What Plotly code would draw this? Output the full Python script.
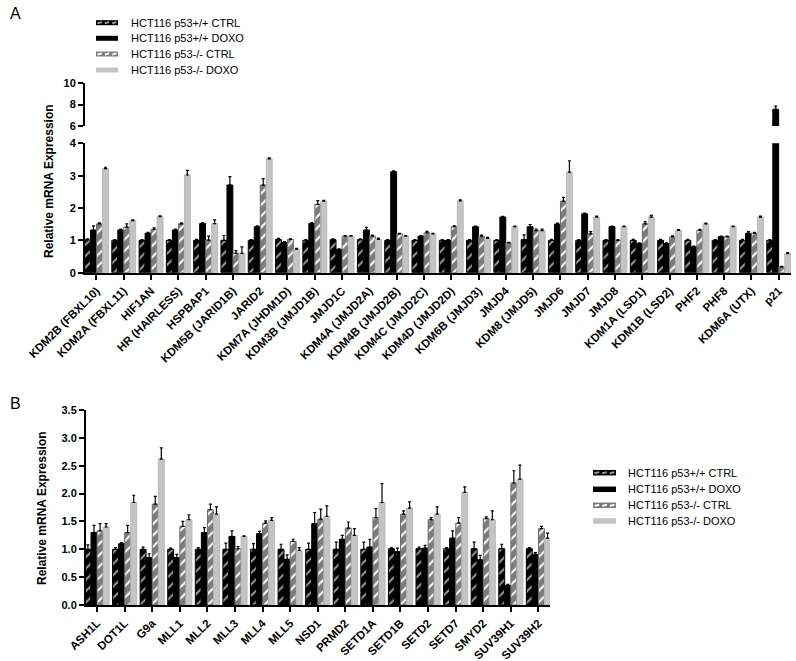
import plotly.graph_objects as go

FONT = "Liberation Sans, Arial, sans-serif"
W, H = 796, 661

series_names = ["HCT116 p53+/+ CTRL", "HCT116 p53+/+ DOXO", "HCT116 p53-/- CTRL", "HCT116 p53-/- DOXO"]

# ---------------- Panel A data ----------------
cats_a = ["KDM2B (FBXL10)", "KDM2A (FBXL11)", "HIF1AN", "HR (HAIRLESS)", "HSPBAP1",
          "KDM5B (JARID1B)", "JARID2", "KDM7A (JHDM1D)", "KDM3B (JMJD1B)", "JMJD1C",
          "KDM4A (JMJD2A)", "KDM4B (JMJD2B)", "KDM4C (JMJD2C)", "KDM4D (JMJD2D)",
          "KDM6B (JMJD3)", "JMJD4", "KDM8 (JMJD5)", "JMJD6", "JMJD7", "JMJD8",
          "KDM1A (LSD1)", "KDM1B (LSD2)", "PHF2", "PHF8", "KDM6A (UTX)", "p21"]
a_wt_ctrl = [1.02, 1.0, 1.0, 1.0, 1.0, 1.0, 1.0, 1.03, 1.0, 1.02, 1.02, 1.0, 1.0, 1.0,
             1.0, 1.0, 1.02, 1.0, 1.0, 1.0, 1.0, 1.0, 1.0, 1.0, 1.0, 1.0]
a_wt_doxo = [1.32, 1.32, 1.22, 1.32, 1.52, 2.71, 1.42, 0.93, 1.52, 0.72, 1.32, 3.12, 1.13, 1.0,
             1.42, 1.72, 1.42, 1.5, 1.82, 1.42, 0.9, 0.9, 0.8, 1.11, 1.22, 7.55]
a_ko_ctrl = [1.51, 1.41, 1.34, 1.51, 1.01, 0.6, 2.71, 1.03, 2.11, 1.13, 1.13, 1.2, 1.23, 1.42,
             1.13, 0.92, 1.3, 2.21, 1.2, 1.0, 1.51, 1.11, 1.31, 1.11, 1.22, 0.18]
a_ko_doxo = [3.22, 1.61, 1.73, 3.02, 1.52, 0.6, 3.52, 0.73, 2.21, 1.13, 1.03, 1.13, 1.2, 2.22,
             1.06, 1.42, 1.3, 3.11, 1.72, 1.42, 1.72, 1.31, 1.51, 1.42, 1.72, 0.59]
a_wt_ctrl_err = [0.03, 0.02, 0.02, 0.02, 0.03, 0.15, 0.02, 0.03, 0.02, 0.03, 0.03, 0.02, 0.02,
                 0.02, 0.02, 0.02, 0.15, 0.03, 0.02, 0.02, 0.03, 0.03, 0.03, 0.02, 0.03, 0.02]
a_wt_doxo_err = [0.13, 0.03, 0.03, 0.03, 0.03, 0.26, 0.03, 0.03, 0.03, 0.02, 0.08, 0.03, 0.02,
                 0.02, 0.02, 0.02, 0.07, 0.03, 0.02, 0.02, 0.02, 0.02, 0.02, 0.02, 0.05, 0.3]
a_ko_ctrl_err = [0.03, 0.1, 0.05, 0.03, 0.12, 0.08, 0.2, 0.02, 0.12, 0.02, 0.03, 0.02, 0.05,
                 0.03, 0.03, 0.02, 0.05, 0.12, 0.07, 0.02, 0.07, 0.03, 0.03, 0.02, 0.03, 0.02]
a_ko_doxo_err = [0.04, 0.02, 0.03, 0.14, 0.11, 0.2, 0.03, 0.02, 0.03, 0.02, 0.04, 0.02, 0.02,
                 0.03, 0.03, 0.02, 0.05, 0.35, 0.03, 0.02, 0.05, 0.02, 0.02, 0.02, 0.03, 0.03]

# ---------------- Panel B data ----------------
cats_b = ["ASH1L", "DOT1L", "G9a", "MLL1", "MLL2", "MLL3", "MLL4", "MLL5", "NSD1", "PRMD2",
          "SETD1A", "SETD1B", "SETD2", "SETD7", "SMYD2", "SUV39H1", "SUV39H2"]
b_wt_ctrl = [1.0, 1.0, 1.0, 1.0, 1.0, 1.0, 1.0, 1.0, 1.0, 1.0, 1.0, 1.01, 1.01, 1.01, 1.01, 1.01, 1.01]
b_wt_ctrl_err = [0.08, 0.03, 0.04, 0.02, 0.03, 0.11, 0.1, 0.09, 0.11, 0.13, 0.13, 0.02, 0.03, 0.02, 0.12, 0.08, 0.02]
b_wt_doxo = [1.3, 1.1, 0.85, 0.85, 1.3, 1.23, 1.28, 0.82, 1.46, 1.18, 1.04, 0.96, 1.02, 1.2, 0.81, 0.35, 0.91]
b_wt_doxo_err = [0.13, 0.02, 0.07, 0.06, 0.09, 0.1, 0.04, 0.08, 0.2, 0.07, 0.14, 0.06, 0.05, 0.13, 0.08, 0.02, 0.03]
b_ko_ctrl = [1.33, 1.3, 1.81, 1.41, 1.71, 1.01, 1.47, 1.14, 1.54, 1.38, 1.57, 1.63, 1.53, 1.47, 1.55, 2.19, 1.37]
b_ko_ctrl_err = [0.13, 0.13, 0.14, 0.09, 0.1, 0.04, 0.04, 0.04, 0.18, 0.11, 0.16, 0.06, 0.04, 0.1, 0.03, 0.22, 0.04]
b_ko_doxo = [1.4, 1.84, 2.62, 1.53, 1.63, 1.23, 1.52, 0.98, 1.59, 1.25, 1.84, 1.74, 1.63, 2.02, 1.53, 2.26, 1.2]
b_ko_doxo_err = [0.06, 0.13, 0.2, 0.09, 0.13, 0.01, 0.05, 0.05, 0.19, 0.12, 0.34, 0.11, 0.13, 0.1, 0.16, 0.25, 0.09]

# ---------------- styles ----------------
fill_colors = ["black", "black", "#7c7c7c", "#c4c4c4"]
dash_colors = ["#9a9a9a", None, "white", None]
styles = [
    dict(color="black", line=dict(color="black", width=1),
         pattern=dict(shape="/", bgcolor="black", fgcolor="#9a9a9a", size=8, solidity=0.25)),
    dict(color="black", line=dict(color="black", width=1)),
    dict(color="#7c7c7c", line=dict(color="#6a6a6a", width=1),
         pattern=dict(shape="/", bgcolor="#7c7c7c", fgcolor="white", size=8, solidity=0.25)),
    dict(color="#c4c4c4", line=dict(color="#b8b8b8", width=1)),
]


def err(arr):
    return dict(type="data", array=arr, arrayminus=[0] * len(arr), symmetric=False,
                color="black", thickness=1.2, width=1.5)


fig = go.Figure()

a_vals = [a_wt_ctrl, a_wt_doxo, a_ko_ctrl, a_ko_doxo]
a_errs = [a_wt_ctrl_err, a_wt_doxo_err, a_ko_ctrl_err, a_ko_doxo_err]
for i in range(4):
    fig.add_trace(go.Bar(x=cats_a, y=a_vals[i], name=series_names[i], marker=styles[i],
                         error_y=err(a_errs[i]), xaxis="x", yaxis="y", showlegend=False))
for i in range(4):
    fig.add_trace(go.Bar(x=cats_a, y=a_vals[i], name=series_names[i], marker=styles[i],
                         error_y=err(a_errs[i]), xaxis="x2", yaxis="y2", showlegend=False))

b_vals = [b_wt_ctrl, b_wt_doxo, b_ko_ctrl, b_ko_doxo]
b_errs = [b_wt_ctrl_err, b_wt_doxo_err, b_ko_ctrl_err, b_ko_doxo_err]
for i in range(4):
    fig.add_trace(go.Bar(x=cats_b, y=b_vals[i], name=series_names[i], marker=styles[i],
                         error_y=err(b_errs[i]), xaxis="x3", yaxis="y3", showlegend=False))


def px_x(p):
    return p / W


def px_y(p):
    return 1 - p / H


# ---------------- manual legends (swatch + label) ----------------
shapes = []
annotations = []


def add_legend(x0, x1, row_centers, text_x, sw_h):
    for i, yc in enumerate(row_centers):
        shapes.append(dict(type="rect", xref="paper", yref="paper",
                           x0=px_x(x0), x1=px_x(x1), y0=px_y(yc + sw_h / 2), y1=px_y(yc - sw_h / 2),
                           fillcolor=fill_colors[i], line=dict(width=0)))
        if dash_colors[i]:
            seg = (x1 - x0) / 3.0
            for k in range(3):
                sx = x0 + seg * k + 1.5
                shapes.append(dict(type="line", xref="paper", yref="paper",
                                   x0=px_x(sx), x1=px_x(sx + seg - 3),
                                   y0=px_y(yc + 0.6), y1=px_y(yc - 0.6),
                                   line=dict(color=dash_colors[i], width=2)))
        annotations.append(dict(text=series_names[i], x=px_x(text_x), y=px_y(yc), xref="paper",
                                yref="paper", showarrow=False, xanchor="left", yanchor="middle",
                                font=dict(family=FONT, size=11, color="black")))


add_legend(96, 118, [22.7, 38.3, 54.0, 70.0], 129, 5)
add_legend(593, 616, [472.7, 489.3, 505.3, 521.0], 626, 5.5)

annotations += [
    dict(text="A", x=px_x(8), y=px_y(14), xref="paper", yref="paper", showarrow=False,
         xanchor="left", yanchor="middle", font=dict(family=FONT, size=16, color="black")),
    dict(text="B", x=px_x(8), y=px_y(403), xref="paper", yref="paper", showarrow=False,
         xanchor="left", yanchor="middle", font=dict(family=FONT, size=16, color="black")),
    dict(text="Relative mRNA Expression", x=px_x(49), y=px_y(181), xref="paper", yref="paper",
         showarrow=False, textangle=-90, xanchor="center", yanchor="middle",
         font=dict(family=FONT, size=12, color="black", weight="bold")),
    dict(text="Relative mRNA Expression", x=px_x(42), y=px_y(508), xref="paper", yref="paper",
         showarrow=False, textangle=-90, xanchor="center", yanchor="middle",
         font=dict(family=FONT, size=12, color="black", weight="bold")),
]

tickfont = dict(family=FONT, size=11, color="black", weight="bold")
xtickfont = dict(family=FONT, size=11.5, color="black", weight="bold")
axis_common = dict(showline=True, linecolor="black", linewidth=2, ticks="outside",
                   tickcolor="black", tickwidth=2, ticklen=5, showgrid=False, zeroline=False,
                   automargin=False)

fig.update_layout(
    template="none",
    width=W, height=H, autosize=False,
    margin=dict(l=0, r=0, t=0, b=0, autoexpand=False),
    paper_bgcolor="white", plot_bgcolor="white",
    barmode="group", bargap=0.12, bargroupgap=0.02,
    font=dict(family=FONT, color="black"),
    showlegend=False,
    xaxis=dict(domain=[px_x(85), px_x(791)], anchor="y", range=[-0.42, 25.45],
               type="category", categoryarray=cats_a, tickangle=-45, tickfont=xtickfont,
               **axis_common),
    yaxis=dict(domain=[px_y(272.7), px_y(143.3)], anchor="x", range=[0, 4],
               tickvals=[0, 1, 2, 3, 4], tickfont=tickfont, **axis_common),
    xaxis2=dict(domain=[px_x(85), px_x(791)], anchor="y2", range=[-0.42, 25.45],
                type="category", categoryarray=cats_a, matches="x", visible=False),
    yaxis2=dict(domain=[px_y(126), px_y(83)], anchor="x2", range=[6, 10],
                tickvals=[6, 8, 10], tickfont=tickfont, **axis_common),
    xaxis3=dict(domain=[px_x(86), px_x(550)], anchor="y3", range=[-0.4, 16.42],
                type="category", categoryarray=cats_b, tickangle=-45, tickfont=xtickfont,
                **axis_common),
    yaxis3=dict(domain=[px_y(605), px_y(410)], anchor="x3", range=[0, 3.5],
                dtick=0.5, tickformat=".1f", tickfont=tickfont, **axis_common),
    shapes=shapes,
    annotations=annotations,
)

fig.write_html("out.html", config={"displayModeBar": False},
               post_script="document.body.style.margin='0';document.body.style.overflow='hidden';")
